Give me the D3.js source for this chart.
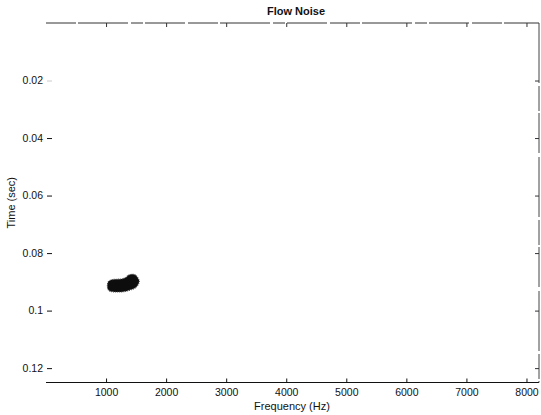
<!DOCTYPE html>
<html>
<head>
<meta charset="utf-8">
<script src="https://cdn.jsdelivr.net/npm/d3@7"></script>
<style>
  html, body { margin: 0; padding: 0; background: #fff; }
  svg { display: block; font-family: "Liberation Sans", Arial, Helvetica, sans-serif; }
</style>
</head>
<body>
<svg id="chart" width="541" height="415"></svg>
<script>
// Axis settings
const freqDomain = [0, 8192];          // Hz
const timeDomain = [0, 0.125];         // sec
const freqTicks = [1000, 2000, 3000, 4000, 5000, 6000, 7000, 8000];
const timeTicks = [0.02, 0.04, 0.06, 0.08, 0.1, 0.12];
const timeTickLabels = ["0.02", "0.04", "0.06", "0.08", "0.1", "0.12"];

// Outline of the detected flow-noise region (frequency in Hz, time in sec),
// traced clockwise from the low-frequency tip.
const blobFreq = [1022, 1038, 1093, 1178, 1261, 1328, 1371, 1438, 1494, 1537, 1552,
                  1537, 1494, 1438, 1371, 1328, 1261, 1178, 1093, 1038];
const blobTime = [0.0914, 0.0900, 0.0893, 0.0891, 0.0890, 0.0885, 0.0877, 0.0874, 0.0877, 0.0889, 0.0898,
                  0.0908, 0.0920, 0.0926, 0.0930, 0.0933, 0.0935, 0.0935, 0.0934, 0.0928];

const svg = d3.select("#chart");
const plotL = 46, plotR = 538, plotT = 23, plotB = 382.5;

const x = d3.scaleLinear().domain(freqDomain).range([plotL, plotR]);
const y = d3.scaleLinear().domain(timeDomain).range([plotT, plotB]);

// Noise region
const defs = svg.append("defs");
defs.append("filter").attr("id", "soft")
  .append("feGaussianBlur").attr("stdDeviation", 0.5);

const pts = blobFreq.map((f, i) => [f, blobTime[i]]);
svg.append("path")
  .datum(pts)
  .attr("d", d3.line().x(d => x(d[0])).y(d => y(d[1])).curve(d3.curveCatmullRomClosed))
  .attr("fill", "#0a0a0a")
  .attr("stroke", "#444")
  .attr("stroke-width", 1.2)
  .attr("stroke-dasharray", "1,1")
  .attr("filter", "url(#soft)");

// Frame: bottom solid, right and top broken
svg.append("line").attr("x1", plotL).attr("x2", plotR + 1).attr("y1", plotB).attr("y2", plotB)
  .attr("stroke", "#111").attr("stroke-width", 1);
svg.append("line").attr("x1", plotR + 1).attr("x2", plotR + 1).attr("y1", plotT).attr("y2", plotB)
  .attr("stroke", "#444").attr("stroke-width", 1).attr("stroke-dasharray", "60,3,25,2,40,4");
svg.append("line").attr("x1", plotL).attr("x2", plotR + 1).attr("y1", plotT).attr("y2", plotT)
  .attr("stroke", "#333").attr("stroke-width", 1).attr("stroke-dasharray", "30,2,50,3,12,2,40,3");

// Bottom axis (ticks pointing inward)
const xAxis = d3.axisBottom(x).tickValues(freqTicks).tickSizeInner(-4).tickSizeOuter(0)
  .tickPadding(6).tickFormat(d3.format("d"));
const gx = svg.append("g").attr("transform", `translate(0,${plotB})`).call(xAxis);
gx.select(".domain").remove();
gx.selectAll("line").attr("stroke", "#111");
gx.selectAll("text").attr("font-size", 10.5).attr("fill", "#111");

// Top ticks
const gxt = svg.append("g").attr("transform", `translate(0,${plotT})`)
  .call(d3.axisTop(x).tickValues(freqTicks).tickSizeInner(-4).tickSizeOuter(0).tickFormat(""));
gxt.select(".domain").remove();
gxt.selectAll("line").attr("stroke", "#333");

// Left axis (labels outside, ticks inward)
const yAxis = d3.axisLeft(y).tickValues(timeTicks).tickSizeInner(-5).tickSizeOuter(0)
  .tickPadding(4).tickFormat((d, i) => timeTickLabels[i]);
const gy = svg.append("g").attr("transform", `translate(${plotL + 1},0)`).call(yAxis);
gy.select(".domain").remove();
gy.selectAll("line").attr("stroke", (d, i) => i === 0 ? "#ccc" : "#111");
gy.selectAll("text").attr("font-size", 10.5).attr("fill", "#111");

// Right ticks
const gyr = svg.append("g").attr("transform", `translate(${plotR + 1},0)`)
  .call(d3.axisRight(y).tickValues(timeTicks).tickSizeInner(-4).tickSizeOuter(0).tickFormat(""));
gyr.select(".domain").remove();
gyr.selectAll("line").attr("stroke", "#333");

// Titles
svg.append("text").attr("x", 296).attr("y", 15).attr("text-anchor", "middle")
  .attr("font-size", 11).attr("font-weight", 600).attr("fill", "#111").text("Flow Noise");
svg.append("text").attr("x", 292).attr("y", 410).attr("text-anchor", "middle")
  .attr("font-size", 11).attr("fill", "#111").text("Frequency (Hz)");
svg.append("text").attr("transform", `translate(15,${(plotT + plotB) / 2}) rotate(-90)`)
  .attr("text-anchor", "middle").attr("font-size", 11).attr("fill", "#111").text("Time (sec)");
</script>
</body>
</html>
